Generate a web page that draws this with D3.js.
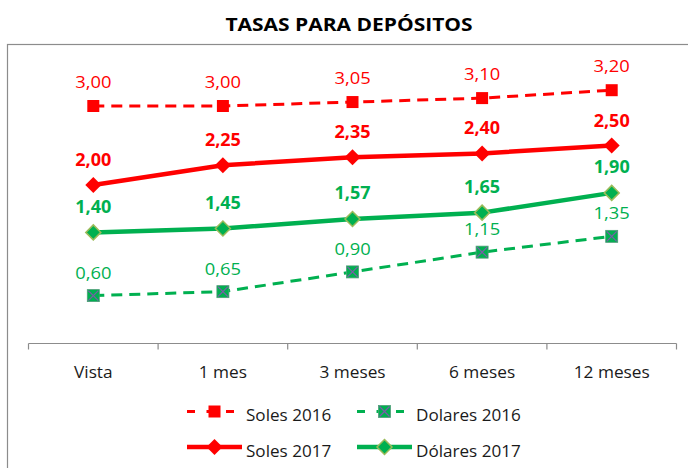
<!DOCTYPE html>
<html><head><meta charset="utf-8">
<script src="https://cdn.jsdelivr.net/npm/d3@7"></script>
<style>body{margin:0;background:#fff}svg{display:block}</style>
</head><body>
<script>
const categories = ["Vista","1 mes","3 meses","6 meses","12 meses"];
const soles2016 = [3.00,3.00,3.05,3.10,3.20];
const dolares2016 = [0.60,0.65,0.90,1.15,1.35];
const soles2017 = [2.00,2.25,2.35,2.40,2.50];
const dolares2017 = [1.40,1.45,1.57,1.65,1.90];
const seriesNames = ["Soles 2016","Dolares 2016","Soles 2017","Dólares 2017"];

const W=688,H=468;
const font="'Open Sans', sans-serif";
const svg=d3.select("body").append("svg").attr("width",W).attr("height",H);

function txt(g,x,y,str,o){
  return g.append("text").attr("transform",`translate(${x},${y}) scale(${o.sx||1},1)`)
    .attr("text-anchor",o.anchor||"start").attr("font-family",font)
    .attr("font-size",o.size).attr("font-weight",o.weight||"normal").attr("fill",o.fill||"#1a1a1a").text(str);
}

svg.append("rect").attr("x",7.5).attr("y",44.5).attr("width",700).attr("height",500)
  .attr("fill","none").attr("stroke","#8c8c8c").attr("stroke-width",1.2);

txt(svg,349,31,"TASAS PARA DEPÓSITOS",{size:17.5,weight:"bold",anchor:"middle",sx:1.2,fill:"#000"});

const x=d3.scaleBand().domain(categories).range([28.5,676.5]);
const y=d3.scaleLinear().domain([0,3.5]).range([343,66.5]);
const cx=d=>x(d)+x.bandwidth()/2;

// axis
const ax=svg.append("g").attr("transform","translate(0,343.5)");
ax.append("line").attr("x1",x.range()[0]).attr("x2",x.range()[1]).attr("stroke","#8c8c8c").attr("stroke-width",1.2);
const tickPos=categories.map(c=>x(c)).concat([x.range()[1]]);
ax.selectAll("line.t").data(tickPos).join("line").attr("class","t")
  .attr("x1",d=>d).attr("x2",d=>d).attr("y1",0).attr("y2",6).attr("stroke","#8c8c8c").attr("stroke-width",1.2);
categories.forEach(c=>txt(ax,cx(c),34,c,{size:16,anchor:"middle",sx:1.08}));

const RED="#ff0000",GREEN="#00b050";
const fmt=v=>d3.format(".2f")(v).replace(".",",");
const series=[
  {name:seriesNames[0],vals:soles2016,color:RED,dash:"11,7",w:3,marker:"square",bold:false,dy:-18.5},
  {name:seriesNames[1],vals:dolares2016,color:GREEN,dash:"11,7",w:3,marker:"xsquare",bold:false,dy:-17},
  {name:seriesNames[2],vals:soles2017,color:RED,dash:null,w:4.5,marker:"diamond",bold:true,dy:-19},
  {name:seriesNames[3],vals:dolares2017,color:GREEN,dash:null,w:4.5,marker:"gdiamond",bold:true,dy:-19.5}
];
const line=d3.line().x(d=>d[0]).y(d=>d[1]);

function marker(g,kind,px,py){
  if(kind==="square"){
    g.append("rect").attr("x",px-6).attr("y",py-6).attr("width",12).attr("height",12).attr("fill",RED);
  } else if(kind==="xsquare"){
    g.append("rect").attr("x",px-6).attr("y",py-6).attr("width",12).attr("height",12).attr("fill",GREEN).attr("stroke","#4f9e78").attr("stroke-width",0.8);
    g.append("path").attr("d",`M${px-5},${py-5}L${px+5},${py+5}M${px+5},${py-5}L${px-5},${py+5}`).attr("stroke","#7a5ca8").attr("stroke-width",1.3);
  } else if(kind==="diamond"){
    g.append("path").attr("d",`M${px},${py-8}L${px+8},${py}L${px},${py+8}L${px-8},${py}Z`).attr("fill",RED);
  } else {
    g.append("path").attr("d",`M${px},${py-7.5}L${px+7.5},${py}L${px},${py+7.5}L${px-7.5},${py}Z`).attr("fill",GREEN).attr("stroke","#9bbb59").attr("stroke-width",1.5);
  }
}

series.forEach(s=>{
  const pts=s.vals.map((v,i)=>[cx(categories[i]),y(v)]);
  svg.append("path").attr("d",line(pts)).attr("fill","none").attr("stroke",s.color)
    .attr("stroke-width",s.w).attr("stroke-dasharray",s.dash).attr("stroke-linejoin","round");
  const g=svg.append("g");
  pts.forEach(p=>marker(g,s.marker,p[0],p[1]));
  const lg=svg.append("g");
  s.vals.forEach((v,i)=>txt(lg,pts[i][0],pts[i][1]+s.dy,fmt(v),
    {size:s.bold?18:17,weight:s.bold?"bold":"normal",anchor:"middle",fill:s.color,sx:s.bold?1.0:1.08}));
});

// legend
const leg=[{s:series[0],x:187,y:411.5},{s:series[1],x:357,y:411.5},{s:series[2],x:187,y:447},{s:series[3],x:357,y:447}];
leg.forEach(l=>{
  const g=svg.append("g");
  g.append("line").attr("x1",l.x).attr("x2",l.x+55).attr("y1",l.y).attr("y2",l.y)
    .attr("stroke",l.s.color).attr("stroke-width",l.s.w).attr("stroke-dasharray",l.s.dash?"8,11.5":null);
  marker(g,l.s.marker,l.x+27.5,l.y);
  txt(g,l.x+59,l.y+9.5,l.s.name,{size:16,sx:1.07});
});
</script>
</body></html>
